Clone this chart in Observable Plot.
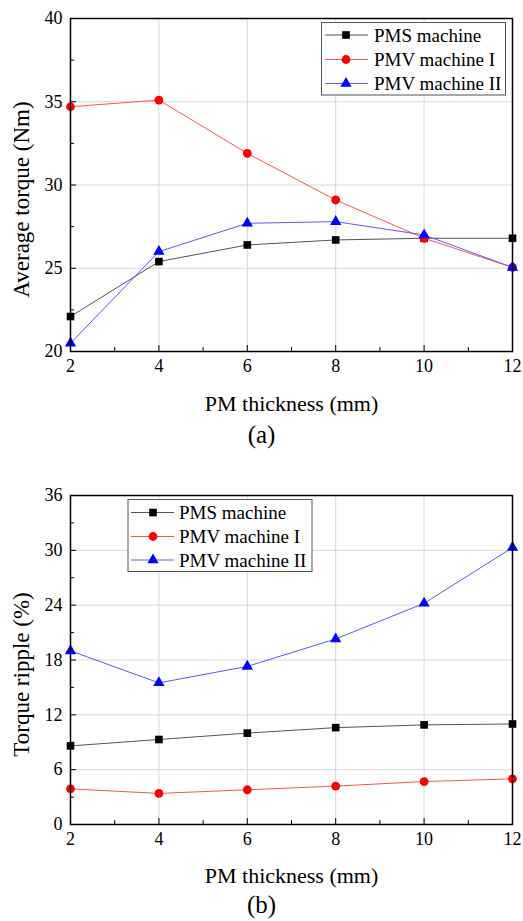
<!DOCTYPE html>
<html><head><meta charset="utf-8">
<script src="https://cdn.jsdelivr.net/npm/d3@7"></script>
<script src="https://cdn.jsdelivr.net/npm/@observablehq/plot@0.6"></script>
<style>
html,body{margin:0;padding:0;background:#fff;overflow:hidden;}
body{font-family:"Liberation Serif","Times New Roman",serif;color:#000;}
.panel{position:relative;width:523px;}
.panel svg.plotsvg{display:block;}
.panel svg, .panel svg text{font-family:"Liberation Serif","Times New Roman",serif !important;}
.legend{position:absolute;left:0;top:0;pointer-events:none;overflow:visible;}
.cap{width:523px;text-align:center;font-size:25px;overflow:visible;}
</style></head><body><div id="wrap"></div>
<script>
// ---- data ----
const thickness = [2, 4, 6, 8, 10, 12];
const seriesNames = ["PMS machine", "PMV machine I", "PMV machine II"];
const torquePMS  = [22.1, 25.4, 26.4, 26.7, 26.8, 26.8];
const torquePMV1 = [34.7, 35.1, 31.9, 29.1, 26.8, 25.05];
const torquePMV2 = [20.5, 26.0, 27.7, 27.8, 27.0, 25.05];
const ripplePMS  = [8.6, 9.3, 10.0, 10.6, 10.9, 11.0];
const ripplePMV1 = [3.9, 3.4, 3.8, 4.2, 4.7, 5.0];
const ripplePMV2 = [19.0, 15.5, 17.3, 20.3, 24.2, 30.3];
const xTicks = [2, 4, 6, 8, 10, 12];
const xMinor = [3, 5, 7, 9, 11];
const torqueTicks = [20, 25, 30, 35, 40];
const torqueMinor = [22.5, 27.5, 32.5, 37.5];
const rippleTicks = [0, 6, 12, 18, 24, 30, 36];
const rippleMinor = [3, 9, 15, 21, 27, 33];
const xLabel = "PM thickness (mm)";

// ---- styles ----
const FONT = '"Liberation Serif","Times New Roman",serif';
const styles = [
  {line: "#555555", fill: "#000000", symbol: "square", r: 4.3, d3sym: d3.symbolSquare},
  {line: "#ff5050", fill: "#ff0000", symbol: "circle", r: 4.4, d3sym: d3.symbolCircle},
  {line: "#5a5aff", fill: "#0000ff", symbol: "triangle", r: 4.2, d3sym: d3.symbolTriangle}
];

function chart(o) {
  const rows = o.values.flatMap((vals, s) => thickness.map((x, i) => ({x, y: vals[i], s})));
  const marks = [
    Plot.gridX({ticks: xTicks, stroke: "#d8d8d8", strokeOpacity: 1}),
    Plot.gridY({ticks: o.yTicks, stroke: "#d8d8d8", strokeOpacity: 1}),
    Plot.axisX({ticks: xMinor, tickSize: -4, text: null, label: null}),
    Plot.axisX({ticks: xTicks, tickSize: -6, text: null, label: null}),
    Plot.axisY({ticks: o.yMinor, tickSize: -4, text: null, label: null}),
    Plot.axisY({ticks: o.yTicks, tickSize: -6, text: null, label: null}),
    Plot.axisX({ticks: xTicks, tickSize: 0, tickPadding: 8, label: null, fontFamily: FONT, fontSize: 18, tickFormat: d => String(d)}),
    Plot.axisY({ticks: o.yTicks, tickSize: 0, tickPadding: 8, label: null, fontFamily: FONT, fontSize: 18, tickFormat: d => String(d)})
  ];
  styles.forEach((st, s) => {
    const d = rows.filter(r => r.s === s);
    marks.push(Plot.line(d, {x: "x", y: "y", stroke: st.line, strokeWidth: 1}));
    marks.push(Plot.dot(d, {x: "x", y: "y", symbol: st.symbol, r: st.r, fill: st.fill, stroke: "none"}));
  });
  marks.push(Plot.frame({stroke: "#000", strokeWidth: 1.5}));
  marks.push(Plot.text([o.yLabel], {text: d => d, frameAnchor: "left", textAnchor: "middle", lineAnchor: "middle", rotate: -90, dx: -49, dy: 14.5, fontSize: 23, fontFamily: FONT}));
  marks.push(Plot.text([xLabel], {text: d => d, frameAnchor: "bottom", textAnchor: "middle", lineAnchor: "middle", dy: o.xLabelDy, fontSize: 22, fontFamily: FONT}));
  const svg = Plot.plot({
    width: 523, height: o.height,
    marginTop: o.marginTop, marginBottom: o.marginBottom, marginLeft: 70, marginRight: 11,
    style: {fontSize: "18px", color: "#000", background: "transparent", overflow: "visible"},
    x: {domain: [2, 12]},
    y: {domain: o.yDomain},
    marks
  });
  svg.classList.add("plotsvg");
  return svg;
}

function legend(o) {
  const svg = d3.create("svg").attr("class", "legend").attr("width", 523).attr("height", o.height);
  svg.append("rect").attr("x", o.box[0]).attr("y", o.box[1]).attr("width", o.box[2]).attr("height", o.box[3])
    .attr("fill", "#fff").attr("stroke", "#555").attr("stroke-width", 1);
  seriesNames.forEach((name, i) => {
    const st = styles[i], y = o.rows[i];
    svg.append("line").attr("x1", o.lineX[0]).attr("x2", o.lineX[1]).attr("y1", y).attr("y2", y)
      .attr("stroke", st.line).attr("stroke-width", 1);
    svg.append("path").attr("transform", `translate(${o.markX},${y})`)
      .attr("d", d3.symbol(st.d3sym, Math.PI * st.r * st.r)()).attr("fill", st.fill);
    svg.append("text").attr("x", o.textX).attr("y", y).attr("dominant-baseline", "central")
      .attr("font-family", FONT).attr("font-size", 19).attr("fill", "#000").text(name);
  });
  return svg.node();
}

const wrap = document.getElementById("wrap");

// panel (a)
const p1 = document.createElement("div"); p1.className = "panel";
p1.appendChild(chart({
  values: [torquePMS, torquePMV1, torquePMV2], yDomain: [20, 40], yTicks: torqueTicks, yMinor: torqueMinor,
  yLabel: "Average torque (Nm)", height: 416, marginTop: 18, marginBottom: 65, xLabelDy: 52
}));
p1.appendChild(legend({height: 416, box: [321.5, 22.5, 184, 72.5], rows: [35, 59.5, 83.5], lineX: [325, 368], markX: 346, textX: 374}));
wrap.appendChild(p1);
const c1 = document.createElement("div"); c1.className = "cap"; c1.style.height = "38px"; c1.style.lineHeight = "38px"; c1.textContent = "(a)";
wrap.appendChild(c1);

// panel (b)
const p2 = document.createElement("div"); p2.className = "panel";
p2.appendChild(chart({
  values: [ripplePMS, ripplePMV1, ripplePMV2], yDomain: [0, 36], yTicks: rippleTicks, yMinor: rippleMinor,
  yLabel: "Torque ripple (%)", height: 432, marginTop: 41, marginBottom: 62, xLabelDy: 51
}));
p2.appendChild(legend({height: 432, box: [128, 45.5, 184, 72], rows: [58.5, 82.5, 106], lineX: [131, 174], markX: 153, textX: 179}));
wrap.appendChild(p2);
const c2 = document.createElement("div"); c2.className = "cap"; c2.style.height = "35px"; c2.style.lineHeight = "38px"; c2.textContent = "(b)";
wrap.appendChild(c2);
</script></body></html>
